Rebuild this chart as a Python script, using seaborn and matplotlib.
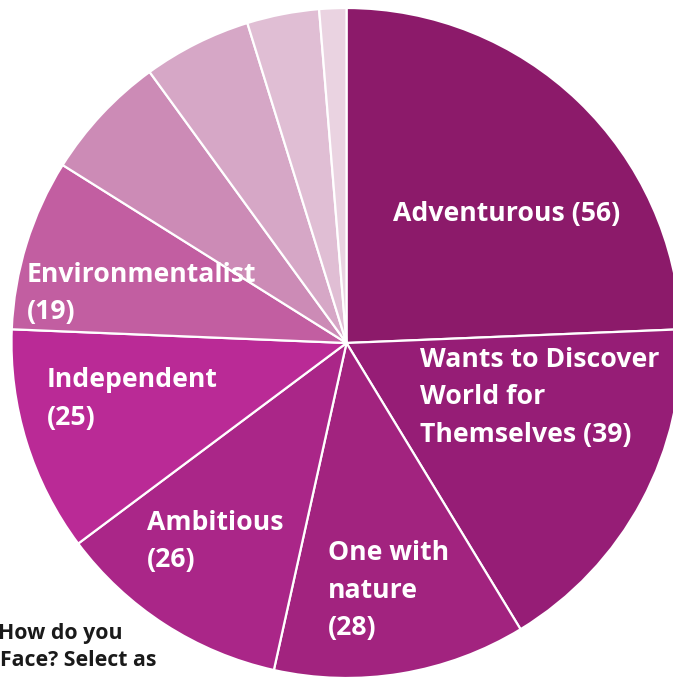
import matplotlib
matplotlib.use("Agg")
import matplotlib.pyplot as plt
import seaborn as sns

# Responses per self-description (clockwise from 12 o'clock)
categories = ["Adventurous", "Wants to Discover\nWorld for\nThemselves", "One with\nnature",
              "Ambitious", "Independent", "Environmentalist", "", "", "", ""]
values = [56, 39, 28, 26, 25, 19, 14, 12, 8, 3]
colors = ["#8C1A6A", "#961D76", "#A2237F", "#AA2688", "#BA2A96", "#C25EA1",
          "#CC8BB6", "#D6A7C6", "#E0BED4", "#EAD3E1"]
# how the count is joined to each name in its label
value_sep = [" ", " ", "\n", "\n", "\n", "\n"]

sns.set_theme(style="white")
plt.rcParams["font.family"] = ["Open Sans", "DejaVu Sans"]

W, H = 673, 679
fig = plt.figure(figsize=(W / 100, H / 100), dpi=100)
ax = fig.add_axes([0, 0, 1, 1])

# pie centre at pixel (346.5, 343), radius 335 px
R = 335.0
cx, cy = 346.5, 343.0
ax.pie(values, colors=colors, startangle=90, counterclock=False, radius=1.0,
       wedgeprops=dict(edgecolor="white", linewidth=1.6))
ax.set_xlim(-cx / R, (W - cx) / R)
ax.set_ylim(-(H - cy) / R, cy / R)
ax.set_aspect("equal")
ax.axis("off")

# label placement in pixels (x, y of first line centre, alignment)
label_pos = [(507, 214, "center"), (420, 360, "left"), (328, 553, "left"),
             (147, 523, "left"), (47, 380, "left"), (27, 275, "left")]
line_h = 37.5
for (x, y, ha), name, v, sep in zip(label_pos, categories, values, value_sep):
    lines = f"{name}{sep}({v})".split("\n")
    for i, ln in enumerate(lines):
        fig.text(x / W, 1 - (y + i * line_h) / H, ln, ha=ha, va="center",
                 color="white", fontsize=19.2, fontweight="bold")

# question text peeking in from the left
fig.text(123 / W, 1 - 633 / H, "How do you", ha="right", va="center",
         color="#1a1a1a", fontsize=15.3, fontweight="bold")
fig.text(0 / W, 1 - 661 / H, "Face? Select as", ha="left", va="center",
         color="#1a1a1a", fontsize=15.3, fontweight="bold")

fig.savefig("out.png", dpi=100, facecolor="white")
